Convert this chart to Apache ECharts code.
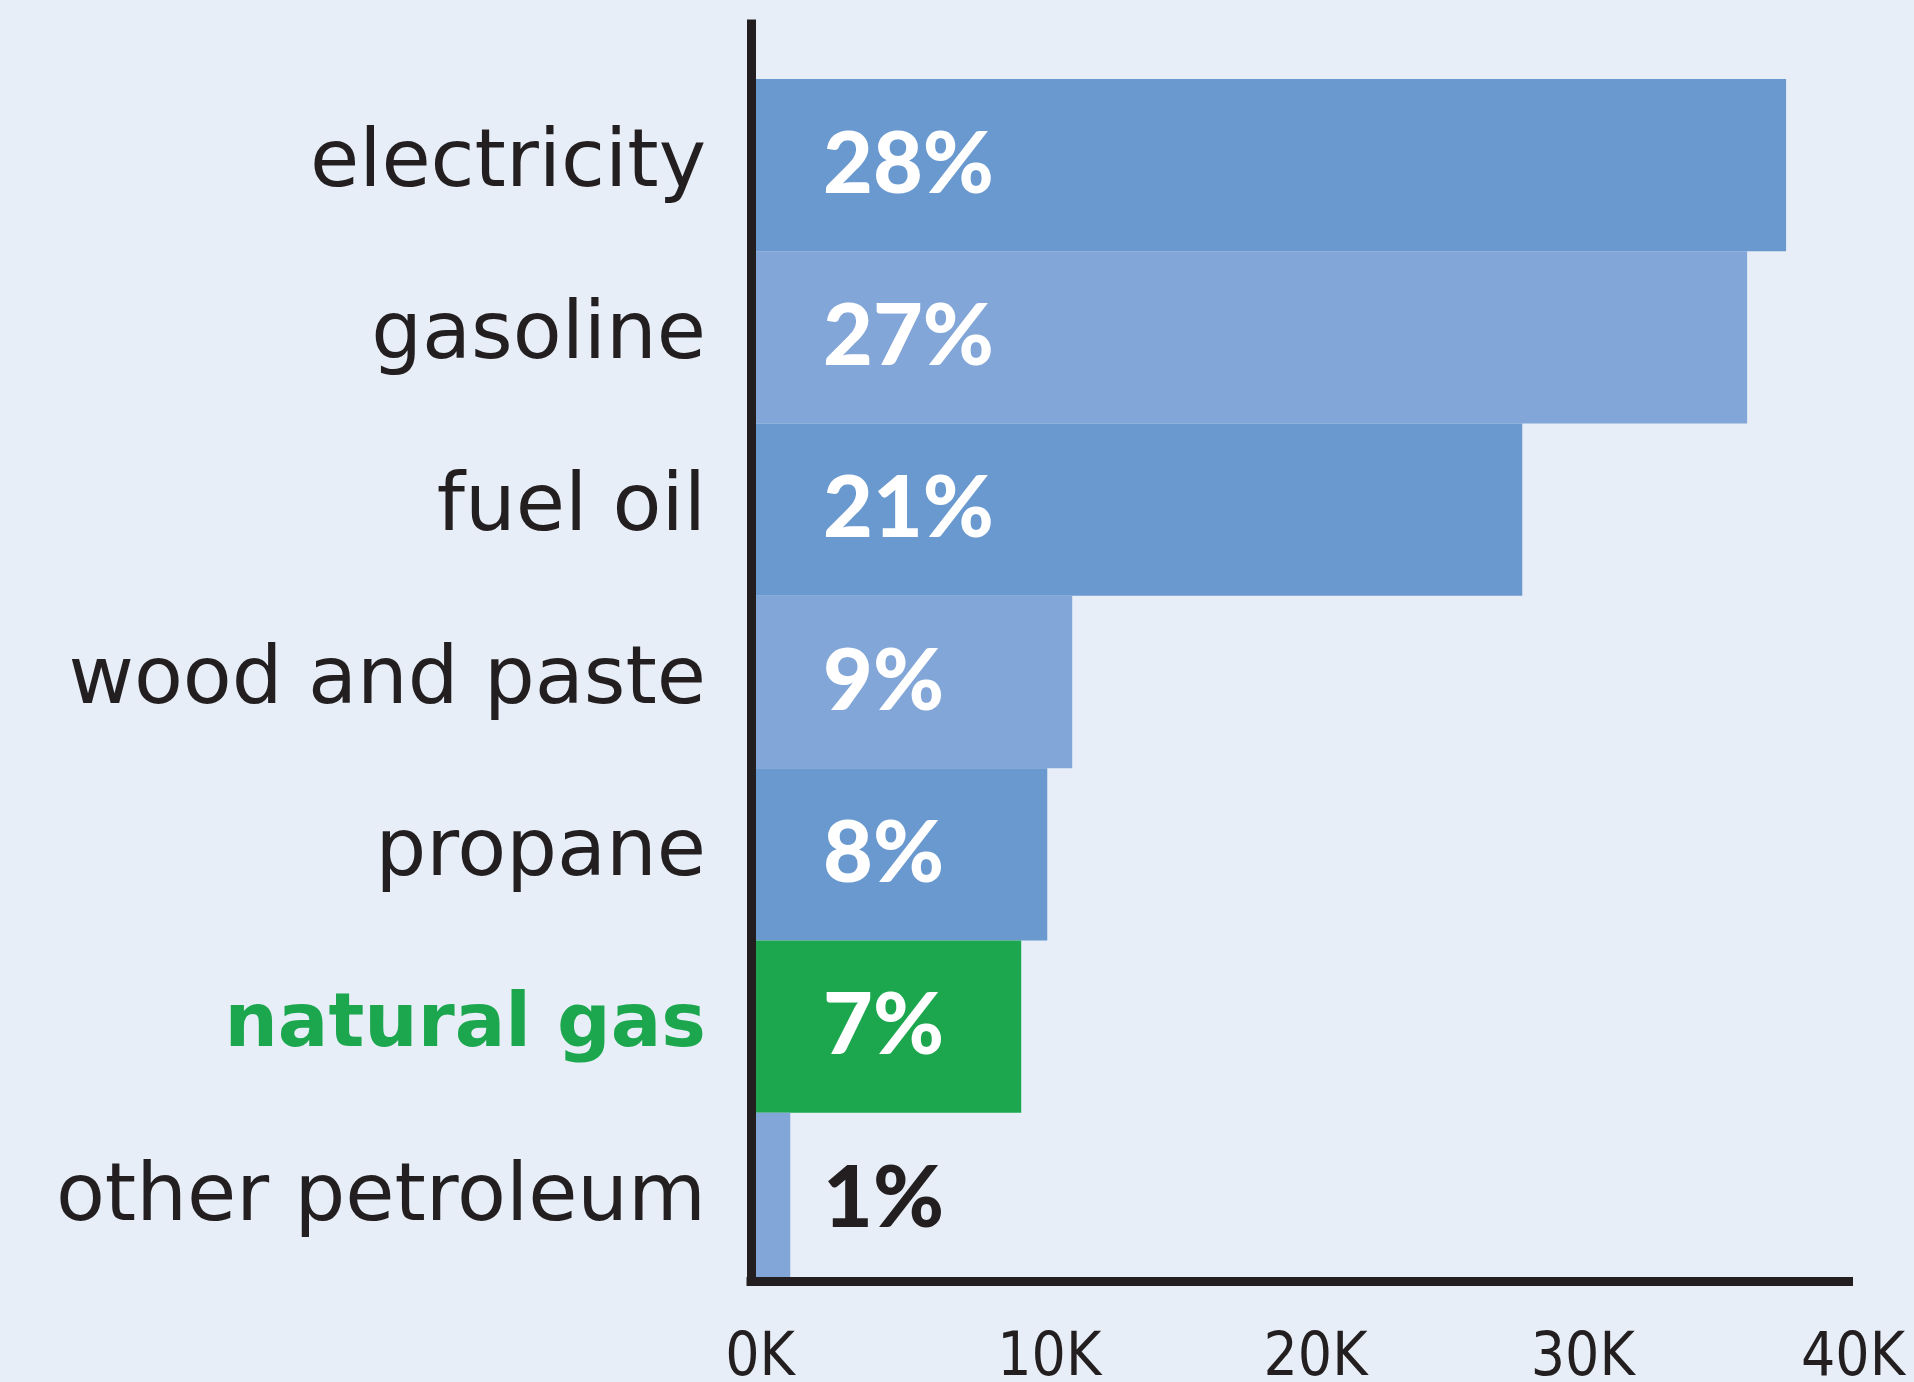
<!DOCTYPE html>
<html>
<head>
<meta charset="utf-8">
<style>
  html, body { margin: 0; padding: 0; background: #e7eef7; }
  #chart { width: 1914px; height: 1382px; }
</style>
<script src="https://cdn.jsdelivr.net/npm/echarts@6/dist/echarts.min.js"></script>
</head>
<body>
<div id="chart"></div>
<script>
// ---- data ----
const categories = ['electricity', 'gasoline', 'fuel oil', 'wood and paste', 'propane', 'natural gas', 'other petroleum'];
const values = [37560, 36140, 27940, 11530, 10620, 9670, 1250];
const shares = [28, 27, 21, 9, 8, 7, 1];
const tickValues = [0, 10000, 20000, 30000, 40000];
const tickLabels = ['0K', '10K', '20K', '30K', '40K'];

// ---- styles ----
const DARK = '#231f20';
const BLUE_D = '#6999cf';
const BLUE_L = '#82a6d8';
const GREEN = '#1ca74f';
const barColors = [BLUE_D, BLUE_L, BLUE_D, BLUE_L, BLUE_D, GREEN, BLUE_L];
const labelColors = ['#ffffff', '#ffffff', '#ffffff', '#ffffff', '#ffffff', '#ffffff', DARK];
const highlight = 'natural gas';
const tickNudge = [8, 38, 22, 8, 0]; // left padding of tick label boxes (style only)

const chart = echarts.init(document.getElementById('chart'), null, { renderer: 'canvas' });

const tickRich = {};
tickNudge.forEach(function (n, i) {
  tickRich['t' + i] = {
    padding: [0, 0, 0, n],
    color: DARK,
    fontFamily: '"DejaVu Sans Condensed", "DejaVu Sans", sans-serif',
    fontSize: 60
  };
});

const option = {
  backgroundColor: '#e7eef7',
  animation: false,
  grid: [
    { left: 756, right: 61, top: 79, bottom: 97, containLabel: false, outerBoundsMode: 'none' },
    { left: 751, right: 65.5, top: 24, bottom: 101, containLabel: false, outerBoundsMode: 'none' }
  ],
  xAxis: [
    {
      gridIndex: 0,
      type: 'value',
      min: 0,
      max: 40000,
      interval: 10000,
      axisLine: { show: false },
      axisTick: { show: false },
      splitLine: { show: false },
      axisLabel: {
        margin: 44,
        color: DARK,
        fontFamily: '"DejaVu Sans Condensed", "DejaVu Sans", sans-serif',
        fontSize: 60,
        formatter: function (v) {
          const i = tickValues.indexOf(v);
          return i >= 0 ? '{t' + i + '|' + tickLabels[i] + '}' : '';
        },
        rich: tickRich
      }
    },
    {
      gridIndex: 1,
      type: 'value',
      min: 0,
      max: 1,
      z: 10,
      axisLine: { show: true, lineStyle: { color: DARK, width: 9, cap: 'square' } },
      axisTick: { show: false },
      axisLabel: { show: false },
      splitLine: { show: false }
    }
  ],
  yAxis: [
    {
      gridIndex: 0,
      type: 'category',
      inverse: true,
      data: categories,
      axisLine: { show: false },
      axisTick: { show: false },
      splitLine: { show: false },
      axisLabel: {
        margin: 50,
        color: DARK,
        fontFamily: '"DejaVu Sans", sans-serif',
        fontSize: 80,
        formatter: function (v) {
          return v === highlight ? '{hl|' + v + '}' : v;
        },
        rich: {
          hl: {
            color: GREEN,
            fontWeight: 'bold',
            fontFamily: '"DejaVu Sans", sans-serif',
            fontSize: 75
          }
        }
      }
    },
    {
      gridIndex: 1,
      type: 'category',
      data: [''],
      z: 10,
      axisLine: { show: true, lineStyle: { color: DARK, width: 9, cap: 'square' } },
      axisTick: { show: false },
      axisLabel: { show: false },
      splitLine: { show: false }
    }
  ],
  series: [
    {
      type: 'bar',
      xAxisIndex: 0,
      yAxisIndex: 0,
      z: 2,
      barCategoryGap: 0,
      barWidth: '100%',
      data: values.map(function (v, i) {
        return {
          value: v,
          itemStyle: { color: barColors[i] },
          label: { color: labelColors[i] }
        };
      }),
      label: {
        show: true,
        position: 'insideLeft',
        distance: 67,
        fontFamily: 'Lato, "DejaVu Sans", sans-serif',
        fontWeight: 900,
        fontSize: 86,
        formatter: function (p) { return shares[p.dataIndex] + '%'; }
      }
    }
  ]
};

chart.setOption(option);
</script>
</body>
</html>
